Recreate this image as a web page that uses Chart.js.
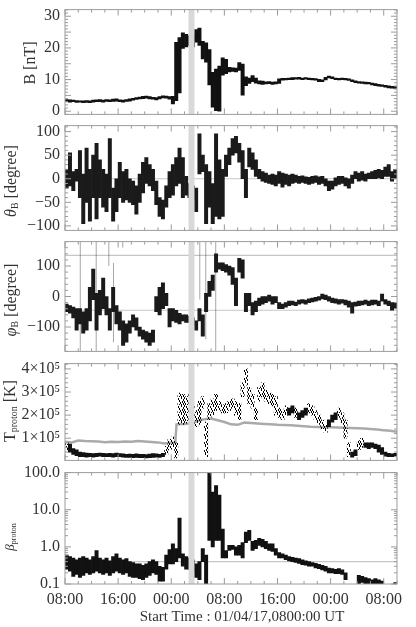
<!DOCTYPE html>
<html>
<head>
<meta charset="utf-8">
<script src="https://cdn.jsdelivr.net/npm/chart.js"></script>
<style>
  body { margin: 0; background: #fff; }
  #wrap { position: relative; width: 416px; height: 627px; overflow: hidden;
          font-family: "Liberation Serif", "DejaVu Serif", serif; color: #333; }
  canvas { position: absolute; left: 0; }
  .ytitle { position: absolute; white-space: nowrap; font-size: 16px;
            transform: translate(-50%, -50%) rotate(-90deg); }
  .ytitle sub { font-size: 0.62em; vertical-align: -0.2em; }
  .xtitle { position: absolute; white-space: nowrap; font-size: 15px;
            transform: translate(-50%, -50%); }
</style>
</head>
<body>
<div id="wrap">
  <canvas id="cB"></canvas>
  <canvas id="cTheta"></canvas>
  <canvas id="cPhi"></canvas>
  <canvas id="cTemp"></canvas>
  <canvas id="cBeta"></canvas>
  <div class="ytitle" style="left:30px;top:63px">B [nT]</div>
  <div class="ytitle" style="left:11px;top:181px"><i>θ</i><sub>B</sub> [degree]</div>
  <div class="ytitle" style="left:11px;top:300px"><i>φ</i><sub>B</sub> [degree]</div>
  <div class="ytitle" style="left:10px;top:411px">T<sub>proton</sub> [K]</div>
  <div class="ytitle" style="left:10px;top:537px;font-size:13px"><i>β</i><sub>proton</sub></div>
  <div class="xtitle" style="left:242px;top:616px">Start Time : 01/04/17,0800:00 UT</div>
</div>
<script>
// ============================================
// DATA (hours after 01/04/17 08:00 UT, half-hour bins: low / high of each bin)
// ============================================
const binHours = [];
for (let i = 0; i < 100; i++) binHours.push(0.25 + 0.5 * i);

const xTickHours = [0, 8, 16, 24, 32, 40, 48];
const xTickLabels = ['08:00', '16:00', '00:00', '08:00', '16:00', '00:00', '08:00'];
const bandStart = 18.6, bandEnd = 19.5;   // shaded interval

// |B| [nT]
const bLo = [3.0,2.9,3.0,2.8,2.9,2.7,2.8,2.7,2.9,3.0, 3.0,2.9,3.1,3.0,3.1,3.2,3.0,2.9,3.1,3.2,
  3.5,3.7,3.9,4.0,4.1,3.9,3.8,3.6,3.9,4.2, 4.1,3.8,2.3,3.3,5.8,19.8,20.3,20.8,20.3,21.8,
  20.8,16.5,15.5,8.3,1.3,0.2,0.0,11.4,11.9,12.4, 12.6,12.4,12.9,5.1,8.1,8.8,9.3,8.9,8.6,8.5,
  8.6,8.7,8.5,8.6,8.8,9.8,9.9,10.0,10.0,10.1, 10.1,10.0,10.1,10.0,9.9,9.8,9.3,9.3,9.9,10.5,
  10.3,10.0,9.9,10.0,9.9,9.7,9.3,9.0,8.9,8.8, 8.6,8.6,8.3,8.1,7.9,7.8,7.6,7.4,7.3,7.2];
const bHi = [3.7,3.6,3.5,3.4,3.3,3.3,3.4,3.3,3.5,3.6, 3.7,3.5,3.7,3.6,3.8,3.9,3.6,3.5,3.7,3.9,
  4.1,4.3,4.5,4.7,4.8,4.6,4.4,4.3,4.6,4.9, 4.8,4.6,4.7,21.8,23.3,24.8,24.3,23.8,24.3,25.8,
  26.3,22.1,21.6,19.5,12.3,13.3,14.3,16.9,16.4,13.9, 13.7,13.6,15.4,14.9,10.9,10.5,11.3,10.5,9.6,9.5,
  9.3,9.4,9.2,9.3,10.2,10.4,10.4,10.5,10.6,10.6, 10.7,10.5,10.6,10.5,10.4,10.3,10.1,9.9,10.7,11.1,
  10.9,10.5,10.4,10.5,10.4,10.2,9.9,9.6,9.4,9.3, 9.2,9.1,8.9,8.7,8.5,8.3,8.2,8.0,7.9,7.8];

// theta_B [degree]
const thLo = [-20,-15,-25,-5,-40,-95,-50,-90,-40,-85, -40,-60,-70,-40,-90,-70,-40,-50,-45,-50,
  -55,-75,-50,-30,-10,-15,-25,-55,-80,-85, -60,-40,-35,-15,-10,-40,-35,-40,-45,-70,
  10,15,-95,-60,-95,-80,-85,-80,5,30, 50,55,35,0,-40,25,20,5,0,-5,
  -8,-10,-12,-15,-10,-18,-12,-15,-10,-8, -10,-8,-10,-12,-10,-8,-12,-10,-15,-25,
  -22,-15,-12,-10,-15,-20,-10,0,-5,-3, -5,0,0,0,2,0,5,5,-5,0];
const thHi = [20,55,15,20,60,10,65,20,50,75, 40,20,10,85,-20,0,35,15,20,0,
  -5,-15,10,35,45,30,20,-5,-40,-45, -15,15,30,45,65,45,5,-10,-15,-20,
  95,50,30,15,-10,95,40,20,50,65, 85,90,75,60,20,65,55,40,20,15,
  12,8,10,8,15,12,10,8,10,8, 5,6,4,3,5,6,4,5,0,-5,
  -5,2,5,5,2,0,8,15,12,15, 10,12,15,18,20,18,25,30,15,20];

// phi_B [degree]
const phLo = [-50,-55,-70,-110,-90,-120,-110,-80,-10,-110, -60,-40,-60,-110,-50,-90,-110,-160,-150,-120,
  -100,-110,-130,-140,-150,-160,-150,-50,-60,-40, -30,-100,-80,-85,-90,-80,-85,-85,-95,-110,
  -80,-130,-50,0,20,80,90,85,80,70, 40,-30,80,60,-50,-30,-60,-50,-30,-25,
  -20,-15,-25,-20,-40,-40,-35,-30,-28,-30, -25,-22,-25,-20,-18,-15,-12,-8,-10,-15,
  -20,-22,-25,-22,-28,-35,-55,-32,-30,-28, -25,-30,-28,-25,-30,-15,-25,-30,-45,-40];
const phHi = [-25,-30,-35,-40,-40,-50,-40,30,90,10, 20,60,0,-40,30,-30,-50,-80,-90,-80,
  -60,-70,-100,-110,-115,-120,-110,0,30,45, 10,-40,-40,-45,-55,-60,-60,-65,-70,-80,
  -40,-60,10,50,70,140,110,110,105,100, 95,60,125,120,10,10,-20,-15,-5,0,
  0,5,0,0,-20,-25,-20,-15,-15,-18, -12,-10,-12,-8,-5,-3,0,8,5,0,
  -5,-8,-10,-10,-12,-15,-20,-18,-15,-15, -12,-15,-12,-12,-15,8,-10,-15,-20,-20];
// wrap-around streaks in phi
const phStreakHours = [2.3, 4.7, 6.6, 7.3, 8.7, 20.3, 21.2, 22.7];
const phStreakLo = [-180, -180, 100, -150, 160, -10, -140, -180];
const phStreakHi = [180, 180, 180, 110, 180, 180, 180, 180];

// proton temperature [1e5 K]
const tpLo = [0.45,0.4,0.3,0.25,0.2,0.2,0.18,0.2,0.18,0.2, 0.22,0.2,0.2,0.2,0.18,0.2,0.2,0.18,0.17,0.17,
  0.16,0.17,0.16,0.16,0.15,0.16,0.17,0.18,0.17,0.2, 0.3,0.5,0.55,0.15,1.6,1.6,1.65,1.7,1.6,1.5,
  1.6,2.3,0.2,1.8,2.0,2.2,2.2,2.1,2.1,2.2, 2.3,2.0,1.8,2.8,3.3,2.5,2.3,1.8,2.6,2.8,
  2.6,2.5,2.4,2.0,1.9,1.8,2.0,2.0,2.1,1.9, 1.8,1.9,2.0,2.1,2.0,1.8,1.6,1.4,1.25,1.5,
  1.7,1.8,1.9,1.6,1.0,0.2,0.18,0.25,0.5,0.6, 0.6,0.55,0.6,0.55,0.4,0.3,0.22,0.2,0.2,0.22];
const tpHi = [0.8,0.75,0.55,0.5,0.4,0.38,0.36,0.35,0.34,0.35, 0.36,0.35,0.34,0.35,0.33,0.36,0.33,0.32,0.3,0.31,
  0.3,0.32,0.3,0.3,0.29,0.31,0.33,0.32,0.3,0.35, 0.65,0.95,1.05,0.8,2.95,2.9,2.8,2.9,2.6,2.2,
  2.6,2.8,1.7,2.5,2.7,2.9,2.6,2.45,2.5,2.6, 2.7,2.6,2.5,3.4,4.0,3.2,2.9,2.3,3.2,3.4,
  3.1,3.0,2.9,2.8,2.3,2.2,2.4,2.3,2.4,2.3, 2.1,2.2,2.3,2.5,2.4,2.2,2.0,1.8,1.6,1.8,
  2.0,2.1,2.3,2.1,1.8,0.8,0.4,0.5,0.9,1.0, 0.8,0.8,0.8,0.75,0.7,0.6,0.4,0.35,0.32,0.35];
// expected proton temperature (grey) [1e5 K]
const tpExpHours = [0,1,2,3,4,5,6,7,8,9,10,11,12,13,14,15,16,16.6,16.8,18,19,20,21,22,23,24,25,
  26,27,28,29,30,31,32,33,34,35,36,37,38,39,40,41,42,43,44,45,46,47,48,49,50];
const tpExp = [0.85,0.82,0.9,0.88,0.87,0.86,0.83,0.85,0.84,0.86,0.85,0.88,0.86,0.84,0.82,0.77,0.8,0.8,1.6,
  1.62,1.65,1.75,1.82,1.85,1.78,1.7,1.6,1.58,1.68,1.66,1.64,1.62,1.6,1.58,1.57,1.56,1.54,1.52,1.5,
  1.49,1.48,1.47,1.46,1.45,1.44,1.43,1.42,1.4,1.38,1.35,1.32,1.28];

// proton beta
const beLo = [0.25,0.22,0.16,0.18,0.15,0.17,0.2,0.18,0.2,0.22, 0.2,0.18,0.2,0.17,0.2,0.22,0.2,0.18,0.2,0.16,
  0.15,0.15,0.14,0.13,0.15,0.17,0.2,0.18,0.12,0.12, 0.25,0.35,0.35,0.4,0.5,0.3,0.25,0.25,0.2,0.15,
  0.13,0.4,0.1,1.5,1.0,1.5,1.5,0.5,0.5,0.8, 0.85,0.6,0.6,0.5,1.3,1.5,0.8,0.9,1.1,1.0,
  0.9,0.8,0.75,0.6,0.5,0.5,0.45,0.42,0.4,0.38, 0.36,0.33,0.32,0.3,0.3,0.27,0.26,0.24,0.22,0.2,
  0.2,0.19,0.19,0.18,0.13,null,null,null,0.1,0.11, 0.1,0.1,0.1,0.1,0.1,0.1,null,null,null,0.1];
const beHi = [0.6,0.55,0.5,0.45,0.5,0.55,0.5,0.45,0.55,0.8, 0.5,0.45,0.5,0.42,0.55,0.65,0.5,0.45,0.48,0.4,
  0.38,0.35,0.35,0.32,0.35,0.4,0.45,0.4,0.3,0.28, 0.6,0.85,1.2,0.9,6.0,0.65,0.55,0.5,0.45,0.35,
  0.4,0.9,0.6,100,30,45,25,3,0.8,1.1, 1.1,1.0,1.1,1.3,2.5,2.8,1.4,1.5,1.7,1.6,
  1.4,1.2,1.2,0.9,0.7,0.65,0.6,0.55,0.52,0.5, 0.48,0.45,0.42,0.4,0.38,0.36,0.34,0.32,0.3,0.27,
  0.26,0.25,0.26,0.24,0.2,null,null,null,0.17,0.16, 0.15,0.14,0.13,0.14,0.13,0.12,null,null,null,0.11];

// ============================================
// HELPERS
// ============================================
const SERIF = '"Liberation Serif", "DejaVu Serif", serif';
const TEXT = '#333';

// each bin becomes a floating bar from its low to its high value
function envelope(hours, lo, hi) {
  const pts = [];
  hours.forEach((t, i) => { if (lo[i] != null) pts.push({ x: t, y: [lo[i], hi[i]] }); });
  return pts;
}

function streaks(hours, lo, hi) {
  const pts = [];
  hours.forEach((t, i) => { pts.push({ x: t, y: lo[i] }, { x: t, y: hi[i] }, { x: t, y: null }); });
  return pts;
}

function barSet(data, color) {
  return {
    type: 'bar', data: data, backgroundColor: color, borderWidth: 0,
    grouped: false, barPercentage: 1, categoryPercentage: 1, order: 1
  };
}

function lineSet(data, color, width, order) {
  return {
    type: 'line', data: data, borderColor: color, borderWidth: width,
    pointRadius: 0, tension: 0, spanGaps: false, order: order
  };
}

// speckled fill, for the scattered high-temperature samples
function speckle() {
  const c = document.createElement('canvas');
  c.width = 8; c.height = 8;
  const g = c.getContext('2d');
  g.fillStyle = '#000';
  [[0, 0], [5, 0], [2, 1], [7, 2], [3, 3], [0, 4], [6, 4], [4, 5], [1, 6], [7, 6], [3, 7], [5, 7]]
    .forEach(([px, py]) => g.fillRect(px, py, 1, 2));
  return g.createPattern(c, 'repeat');
}

// frame, inward ticks, reference lines and the shaded interval
const frameTicks = {
  id: 'frameTicks',
  beforeDatasetsDraw(chart, args, o) {
    const { ctx, chartArea: a, scales: { y } } = chart;
    ctx.save();
    ctx.strokeStyle = '#c6c6c6';
    ctx.lineWidth = 1.2;
    (o.refLines || []).forEach(v => {
      const py = y.getPixelForValue(v);
      ctx.beginPath(); ctx.moveTo(a.left, py); ctx.lineTo(a.right, py); ctx.stroke();
    });
    ctx.restore();
  },
  afterDatasetsDraw(chart, args, o) {
    const { ctx, chartArea: a, scales: { x, y } } = chart;
    ctx.save();
    const x0 = x.getPixelForValue(bandStart), x1 = x.getPixelForValue(bandEnd);
    ctx.fillStyle = '#d9d9d9';
    ctx.fillRect(x0, a.top, x1 - x0, a.bottom - a.top);

    ctx.strokeStyle = '#9c9c9c';
    ctx.lineWidth = 1;
    ctx.strokeRect(a.left, a.top, a.right - a.left, a.bottom - a.top);
    ctx.beginPath();
    for (let t = 0; t <= x.max; t += 2) {
      const px = x.getPixelForValue(t);
      const len = t % 8 === 0 ? 6 : 3;
      ctx.moveTo(px, a.top); ctx.lineTo(px, a.top + len);
      ctx.moveTo(px, a.bottom); ctx.lineTo(px, a.bottom - len);
    }
    const marks = [];
    if (o.log) {
      for (let d = -1; d < 2; d++) {
        for (let m = 1; m <= 9; m++) marks.push([m * Math.pow(10, d), m === 1]);
      }
      marks.push([100, true]);
    } else {
      const start = Math.ceil(y.min / o.minor) * o.minor;
      for (let v = start; v <= y.max + 1e-9; v += o.minor) {
        marks.push([v, Math.abs(v / o.major - Math.round(v / o.major)) < 1e-6]);
      }
    }
    marks.forEach(([v, major]) => {
      const py = y.getPixelForValue(v);
      const len = major ? 6 : 3;
      ctx.moveTo(a.left, py); ctx.lineTo(a.left + len, py);
      ctx.moveTo(a.right, py); ctx.lineTo(a.right - len, py);
    });
    ctx.stroke();
    ctx.restore();
  }
};

function panel(id, frameTop, frameBottom, spec) {
  const padT = 12;
  const canvas = document.getElementById(id);
  const top = frameTop - padT;
  const height = spec.showX ? 627 - top : frameBottom - frameTop + 2 * padT;
  canvas.style.top = top + 'px';
  canvas.width = 416;
  canvas.height = height;

  return new Chart(canvas, {
    type: 'bar',
    data: { datasets: spec.datasets },
    options: {
      responsive: false,
      animation: false,
      events: [],
      layout: { padding: { top: padT, bottom: spec.showX ? 0 : padT, left: 0, right: 19 } },
      plugins: {
        legend: { display: false },
        tooltip: { enabled: false },
        frameTicks: spec.frame
      },
      scales: {
        x: {
          type: 'linear', min: 0, max: 50, offset: false,
          display: !!spec.showX,
          grid: { display: false, drawTicks: false, offset: false },
          border: { display: false },
          afterBuildTicks: s => { s.ticks = xTickHours.map(v => ({ value: v })); },
          afterFit: s => { if (spec.showX) s.height = 627 - frameBottom; },
          ticks: {
            autoSkip: false, maxRotation: 0, padding: 6, color: TEXT,
            font: { family: SERIF, size: 16 },
            callback: (v, i) => xTickLabels[i]
          }
        },
        y: {
          type: spec.log ? 'logarithmic' : 'linear',
          min: spec.yMin, max: spec.yMax,
          stacked: false,
          grid: { display: false, drawTicks: false },
          border: { display: false },
          afterFit: s => { s.width = 65; },
          afterBuildTicks: s => { s.ticks = spec.yTicks.map(v => ({ value: v })); },
          ticks: {
            padding: 5, color: TEXT,
            font: { family: SERIF, size: 16 },
            callback: (v, i) => spec.yLabels[i]
          }
        }
      }
    },
    plugins: [frameTicks]
  });
}

// ============================================
// PANELS
// ============================================
panel('cB', 7, 117, {
  yMin: -1, yMax: 32.1,
  yTicks: [0, 5, 10, 15, 20, 25, 30],
  yLabels: ['0', '5', '10', '15', '20', '25', '30'],
  frame: { minor: 1, major: 5 },
  datasets: [barSet(envelope(binHours, bLo, bHi), '#111')]
});

panel('cTheta', 123, 233, {
  yMin: -109.5, yMax: 112.7,
  yTicks: [-100, -50, 0, 50, 100],
  yLabels: ['\u2212100', '\u221250', '0', '50', '100'],
  frame: { minor: 10, major: 50, refLines: [0] },
  datasets: [barSet(envelope(binHours, thLo, thHi), '#1a1a1a')]
});

panel('cPhi', 239, 354, {
  yMin: -180, yMax: 180,
  yTicks: [-100, 0, 100],
  yLabels: ['\u2212100', '0', '100'],
  frame: { minor: 20, major: 100, refLines: [135, -45] },
  datasets: [
    barSet(envelope(binHours, phLo, phHi), '#1a1a1a'),
    lineSet(streaks(phStreakHours, phStreakLo, phStreakHi), 'rgba(0,0,0,0.35)', 1, 2)
  ]
});

const dots = speckle();
panel('cTemp', 361, 463, {
  yMin: 0.04, yMax: 4.23,
  yTicks: [1, 2, 3, 4],
  yLabels: ['1\u00d710\u2075', '2\u00d710\u2075', '3\u00d710\u2075', '4\u00d710\u2075'],
  frame: { minor: 0.2, major: 1 },
  datasets: [
    lineSet(tpExpHours.map((t, i) => ({ x: t, y: tpExp[i] })), '#aaaaaa', 2.5, 2),
    barSet(envelope(binHours, tpLo, tpHi), c => {
      const r = c.raw;
      return r && (r.y[1] - r.y[0]) > 0.35 ? dots : '#111';
    })
  ]
});

panel('cBeta', 470, 584, {
  log: true, showX: true,
  yMin: 0.1, yMax: 100,
  yTicks: [0.1, 1, 10, 100],
  yLabels: ['0.1', '1.0', '10.0', '100.0'],
  frame: { log: true, refLines: [0.4] },
  datasets: [barSet(envelope(binHours, beLo, beHi), '#111')]
});
</script>
</body>
</html>
